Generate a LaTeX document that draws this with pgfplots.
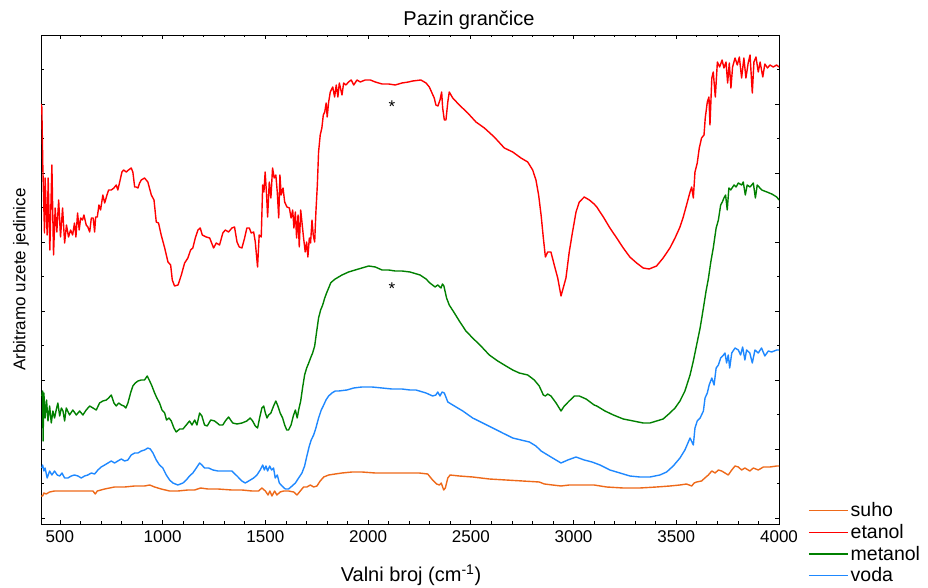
\documentclass[border=0pt]{standalone}
\usepackage{fontspec}
\setmainfont{Liberation Sans}
\usepackage{pgfplots}
\pgfplotsset{compat=1.18}
\definecolor{cSuho}{RGB}{238,105,25}
\definecolor{cEtanol}{RGB}{255,0,0}
\definecolor{cMetanol}{RGB}{0,128,0}
\definecolor{cVoda}{RGB}{30,136,255}
\begin{document}
\begin{tikzpicture}[x=1pt,y=1pt]
\useasboundingbox (-41,-64) rectangle (887,524);
\begin{axis}[
  at={(0,0)}, anchor=south west,
  width=738pt, height=489pt, scale only axis,
  xmin=408, xmax=4000, ymin=0, ymax=489,
  xtick={500,1000,...,4000}, minor x tick num=4,
  ytick={6,75,144,213,282,351,420,489}, yticklabels={}, minor y tick num=1,
  tick align=inside, major tick length=4pt, minor tick length=2.5pt,
  xtick pos=both, ytick pos=both,
  tick style={black, line width=0.8pt},
  axis line style={line width=0.9pt},
  /pgf/number format/.cd, 1000 sep={}, assume math mode=true, /pgfplots/.cd,
  xticklabel style={font=\fontsize{17}{20}\selectfont, yshift=-3pt},
  legend style={at={(axis description cs:1.0393,0.0478)}, anchor=north west,
    draw=none, fill=none, font=\fontsize{19.5}{23}\selectfont,
    row sep=2pt, inner sep=0pt, cells={anchor=west}},
  legend image code/.code={\draw[#1, line width=1.5pt] (0pt,0pt) -- (32pt,0pt); \path (32pt,0pt) -- (39pt,0pt);},
  every axis plot/.append style={line width=1.4pt, line join=round},
  clip=true,
]
\addplot[color=cSuho, mark=none] coordinates {
(409,28)(416,28)(422,31)(433,30)(450,32)(474,33)(507,33)(539,33)(571,33)(604,33)(636,33)(661,33)(672,30)(682,33)(718,35)(766,37)(815,37)(864,38)(912,38)(937,39)(961,37)(993,35)(1034,33)(1074,33)(1123,34)(1156,34)(1185,36)(1220,35)(1269,35)(1337,34)(1386,34)(1435,33)(1467,33)(1483,36)(1500,33)(1513,29)(1522,33)(1532,28)(1545,33)(1556,29)(1572,32)(1589,33)(1613,33)(1638,32)(1654,29)(1670,33)(1686,37)(1702,37)(1719,39)(1735,37)(1751,38)(1767,43)(1784,47)(1808,49)(1840,50)(1873,51)(1922,52)(1970,52)(2035,51)(2100,51)(2165,51)(2249,51)(2290,50)(2314,44)(2334,40)(2347,39)(2356,41)(2368,34)(2376,36)(2388,46)(2399,49)(2444,48)(2509,47)(2590,45)(2671,44)(2752,43)(2833,42)(2858,40)(2898,39)(2939,38)(2979,39)(3028,39)(3100,39)(3161,37)(3242,36)(3323,36)(3404,37)(3469,38)(3518,39)(3550,40)(3575,38)(3587,41)(3599,42)(3623,43)(3639,46)(3656,49)(3673,53)(3689,51)(3705,54)(3721,53)(3737,51)(3753,49)(3770,54)(3786,58)(3802,57)(3818,54)(3834,56)(3858,53)(3875,56)(3899,54)(3924,57)(3956,57)(3989,58)(4000,58)
};
\addlegendentry{suho}
\addplot[color=cEtanol, mark=none] coordinates {
(408,420)(412,417)(417,356)(425,291)(428,346)(438,289)(443,346)(451,274)(461,359)(469,269)(477,316)(485,292)(494,324)(503,287)(513,316)(523,281)(532,299)(542,287)(552,294)(562,289)(571,301)(578,287)(586,311)(594,294)(601,306)(610,304)(617,309)(628,299)(636,297)(645,292)(653,306)(662,306)(669,292)(674,307)(682,307)(690,319)(698,314)(709,329)(718,321)(729,329)(737,334)(750,334)(763,336)(774,339)(782,334)(791,342)(802,352)(810,354)(823,352)(834,354)(847,356)(855,352)(864,337)(871,337)(880,336)(888,341)(896,344)(912,346)(928,342)(945,329)(958,324)(969,302)(980,301)(993,289)(1010,276)(1026,262)(1039,259)(1047,244)(1058,238)(1075,239)(1091,249)(1107,261)(1123,266)(1136,274)(1147,276)(1159,286)(1172,294)(1183,296)(1193,289)(1212,287)(1229,286)(1248,276)(1261,281)(1277,279)(1293,291)(1305,294)(1321,292)(1337,296)(1350,297)(1362,282)(1373,277)(1386,276)(1399,286)(1410,296)(1422,296)(1431,291)(1443,292)(1451,282)(1462,257)(1470,289)(1480,287)(1487,339)(1493,332)(1499,352)(1506,329)(1511,307)(1519,342)(1527,326)(1535,356)(1543,346)(1551,349)(1558,332)(1565,306)(1571,349)(1577,329)(1586,336)(1594,322)(1605,317)(1617,316)(1625,306)(1633,314)(1639,296)(1646,312)(1652,286)(1659,309)(1665,277)(1672,314)(1678,302)(1686,286)(1694,272)(1701,282)(1707,267)(1714,286)(1720,281)(1727,304)(1733,289)(1740,282)(1746,312)(1753,339)(1759,372)(1767,389)(1775,396)(1782,409)(1789,412)(1796,421)(1801,407)(1808,422)(1816,432)(1828,437)(1837,427)(1845,439)(1853,427)(1860,441)(1873,429)(1881,441)(1892,439)(1905,442)(1918,444)(1930,439)(1946,444)(1962,442)(1986,444)(2011,444)(2035,442)(2068,440)(2100,440)(2132,439)(2165,441)(2197,442)(2217,443)(2257,444)(2282,441)(2298,437)(2311,431)(2322,426)(2330,419)(2340,418)(2350,424)(2358,432)(2363,416)(2371,404)(2379,404)(2388,422)(2395,432)(2412,426)(2444,419)(2485,411)(2525,402)(2566,396)(2614,387)(2663,376)(2704,372)(2744,366)(2777,362)(2801,354)(2817,344)(2830,329)(2842,309)(2853,286)(2863,267)(2874,272)(2890,272)(2906,259)(2923,246)(2939,228)(2963,246)(2979,272)(2995,292)(3012,312)(3028,322)(3052,327)(3077,324)(3100,320)(3113,317)(3145,307)(3177,296)(3210,286)(3242,276)(3274,267)(3307,261)(3339,256)(3368,255)(3404,258)(3436,266)(3469,276)(3494,286)(3518,297)(3534,307)(3550,319)(3567,332)(3575,337)(3583,326)(3591,352)(3602,361)(3612,376)(3623,386)(3635,389)(3641,406)(3651,422)(3659,427)(3664,399)(3673,446)(3680,452)(3690,427)(3700,462)(3711,457)(3723,464)(3732,456)(3742,462)(3750,441)(3758,461)(3766,436)(3774,457)(3786,466)(3797,459)(3807,467)(3818,446)(3829,466)(3839,446)(3850,461)(3859,469)(3870,431)(3878,462)(3888,467)(3899,452)(3908,462)(3921,447)(3931,460)(3944,456)(3956,459)(3972,457)(3988,459)(4000,457)
};
\addlegendentry{etanol}
\addplot[color=cMetanol, mark=none] coordinates {
(412,128)(416,133)(418,83)(422,131)(428,106)(435,124)(442,103)(450,118)(458,101)(466,113)(474,106)(482,114)(490,121)(499,108)(507,116)(515,113)(523,103)(531,116)(547,109)(563,114)(580,109)(596,113)(612,109)(628,114)(645,118)(661,116)(677,114)(693,121)(709,123)(726,124)(737,126)(750,129)(763,121)(774,118)(786,121)(799,119)(812,118)(821,116)(831,121)(844,131)(855,138)(867,141)(880,143)(896,144)(912,144)(925,148)(937,143)(948,138)(961,131)(972,126)(985,121)(997,114)(1010,111)(1019,104)(1031,106)(1042,103)(1055,96)(1066,92)(1083,95)(1099,95)(1115,99)(1131,103)(1143,99)(1156,104)(1167,99)(1180,111)(1191,108)(1204,99)(1217,98)(1234,104)(1253,103)(1277,99)(1293,99)(1305,103)(1321,107)(1341,101)(1362,100)(1386,101)(1410,103)(1426,106)(1438,103)(1451,98)(1462,96)(1472,106)(1483,116)(1492,118)(1500,111)(1508,106)(1516,109)(1527,111)(1540,118)(1551,123)(1561,118)(1572,111)(1584,106)(1594,99)(1604,94)(1613,94)(1625,99)(1636,108)(1646,114)(1655,106)(1662,114)(1672,123)(1681,136)(1691,149)(1701,156)(1711,161)(1720,166)(1730,171)(1740,178)(1750,193)(1759,206)(1769,214)(1779,219)(1789,226)(1798,231)(1808,236)(1818,241)(1828,243)(1840,245)(1873,249)(1905,252)(1937,254)(1970,256)(2003,258)(2035,257)(2068,254)(2100,254)(2132,253)(2165,253)(2204,252)(2253,249)(2282,245)(2301,241)(2326,237)(2339,239)(2355,236)(2362,240)(2369,238)(2382,226)(2395,219)(2420,211)(2444,203)(2476,193)(2509,186)(2549,178)(2590,169)(2631,163)(2671,158)(2704,154)(2736,151)(2777,149)(2809,144)(2833,138)(2853,129)(2863,128)(2874,130)(2890,128)(2915,121)(2939,113)(2955,118)(2979,123)(3004,128)(3028,128)(3061,125)(3100,119)(3113,118)(3153,113)(3194,109)(3242,105)(3291,103)(3339,101)(3372,101)(3404,103)(3436,105)(3469,111)(3494,116)(3518,123)(3542,133)(3567,149)(3583,163)(3599,179)(3616,196)(3632,216)(3645,233)(3656,245)(3668,262)(3680,276)(3694,296)(3705,304)(3716,319)(3724,322)(3732,326)(3740,329)(3748,314)(3756,336)(3765,334)(3781,339)(3791,337)(3802,341)(3818,339)(3826,342)(3836,329)(3845,339)(3859,337)(3875,341)(3885,326)(3894,339)(3916,334)(3941,332)(3965,330)(3989,327)(4000,324)
};
\addlegendentry{metanol}
\addplot[color=cVoda, mark=none] coordinates {
(412,56)(416,59)(422,53)(428,56)(438,46)(450,53)(461,49)(474,53)(487,49)(499,48)(510,51)(523,46)(539,46)(555,48)(571,49)(588,48)(604,46)(620,48)(636,49)(653,51)(669,50)(685,54)(701,57)(718,59)(734,61)(750,63)(766,61)(782,63)(799,65)(815,63)(831,64)(847,69)(864,71)(880,71)(896,73)(912,74)(928,76)(940,75)(953,71)(969,64)(985,59)(1001,56)(1018,49)(1034,44)(1050,41)(1074,39)(1099,41)(1115,44)(1131,48)(1147,51)(1164,56)(1180,61)(1191,59)(1204,56)(1224,56)(1245,54)(1269,53)(1293,53)(1313,53)(1337,53)(1362,48)(1386,43)(1402,41)(1419,43)(1443,46)(1459,49)(1475,54)(1487,59)(1495,54)(1503,58)(1511,53)(1521,58)(1530,54)(1540,56)(1548,46)(1558,49)(1568,41)(1581,38)(1597,35)(1613,35)(1630,38)(1646,41)(1662,46)(1678,51)(1691,58)(1702,68)(1714,78)(1723,84)(1735,89)(1746,96)(1759,106)(1772,114)(1784,119)(1795,124)(1808,128)(1824,131)(1840,133)(1857,133)(1897,134)(1930,136)(1970,137)(2019,137)(2068,136)(2116,135)(2165,135)(2204,134)(2233,134)(2282,131)(2314,128)(2330,129)(2339,132)(2350,128)(2360,132)(2371,131)(2388,122)(2420,118)(2461,113)(2509,106)(2558,101)(2607,96)(2655,91)(2704,86)(2744,84)(2785,82)(2817,78)(2842,73)(2866,70)(2898,66)(2939,61)(2972,64)(3012,67)(3052,64)(3090,62)(3129,59)(3177,54)(3226,51)(3274,48)(3323,47)(3372,47)(3420,49)(3453,52)(3485,58)(3518,66)(3542,74)(3567,86)(3583,79)(3591,96)(3602,103)(3616,106)(3632,113)(3640,126)(3651,131)(3660,139)(3673,146)(3684,139)(3694,156)(3705,159)(3716,166)(3726,168)(3737,171)(3745,161)(3753,169)(3760,156)(3770,171)(3786,176)(3802,174)(3813,169)(3823,177)(3834,164)(3842,174)(3858,171)(3870,161)(3883,174)(3899,171)(3915,176)(3931,168)(3948,173)(3964,172)(3989,174)(4000,174)
};
\addlegendentry{voda}
\node[anchor=base, font=\fontsize{17}{20}\selectfont] at (axis cs:2116,411) {*};
\node[anchor=base, font=\fontsize{17}{20}\selectfont] at (axis cs:2116,229) {*};
\end{axis}
\node[anchor=base, font=\fontsize{20}{24}\selectfont] at (428,498) {Pazin grančice};
\node[anchor=base, font=\fontsize{20}{24}\selectfont] at (370,-58) {Valni broj (cm\textsuperscript{-1})};
\node[anchor=base, rotate=90, font=\fontsize{17}{20}\selectfont] at (-15.5,244.5) {Arbitramo uzete jedinice};
\end{tikzpicture}
\end{document}
